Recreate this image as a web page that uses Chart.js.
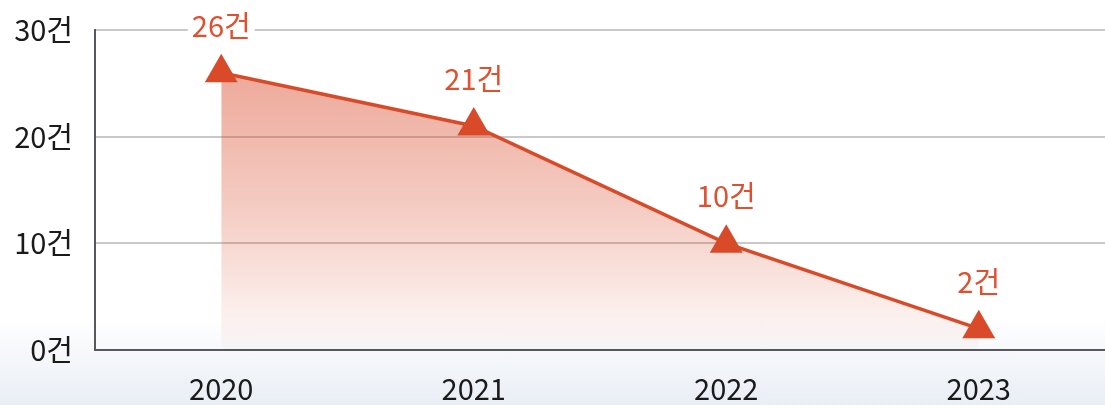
<!DOCTYPE html>
<html><head><meta charset="utf-8">
<script src="https://cdn.jsdelivr.net/npm/chart.js@4/dist/chart.umd.min.js"></script>
<style>
html,body{margin:0;padding:0;}
body{width:1105px;height:405px;background:linear-gradient(to bottom,#ffffff 0px,#ffffff 315px,#e9eef5 405px);}
#wrap{position:relative;width:1105px;height:405px;}
</style></head><body>
<div id="wrap"><canvas id="c" width="1105" height="405"></canvas></div>
<script>
const categories = ['2020','2021','2022','2023'];
const cases = [26, 21, 10, 2];
const yTicks = [0, 10, 20, 30];
const unit = '건';

const LINE = '#d94a29';
const FONT = '"Noto Sans CJK KR", "Noto Sans", sans-serif';

const labelPlugin = {
  id: 'valueLabels',
  afterDatasetsDraw(chart) {
    const ctx = chart.ctx;
    const meta = chart.getDatasetMeta(0);
    ctx.save();
    ctx.font = '29px ' + FONT;
    ctx.textAlign = 'center';
    ctx.textBaseline = 'middle';
    meta.data.forEach((pt, i) => {
      const txt = cases[i] + unit;
      const w = ctx.measureText(txt).width;
      const y = pt.y - 47;
      ctx.fillStyle = '#ffffff';
      ctx.fillRect(pt.x - w / 2 - 4, y - 14, w + 8, 28);
      ctx.fillStyle = '#e0502f';
      ctx.fillText(txt, pt.x, y);
    });
    ctx.restore();
  }
};

new Chart(document.getElementById('c'), {
  type: 'line',
  data: {
    labels: categories,
    datasets: [{
      data: cases,
      borderColor: LINE,
      borderWidth: 3.5,
      tension: 0,
      fill: 'origin',
      backgroundColor: (c) => {
        const ca = c.chart.chartArea;
        if (!ca) return 'rgba(217,74,41,0.4)';
        const g = c.chart.ctx.createLinearGradient(0, ca.top + 40, 0, ca.bottom);
        g.addColorStop(0, 'rgba(217,74,41,0.48)');
        g.addColorStop(0.5, 'rgba(217,74,41,0.28)');
        g.addColorStop(1, 'rgba(217,74,41,0.02)');
        return g;
      },
      pointStyle: 'triangle',
      pointRadius: 19,
      pointHoverRadius: 19,
      pointBackgroundColor: LINE,
      pointBorderColor: LINE,
      pointBorderWidth: 0
    }]
  },
  options: {
    responsive: false,
    animation: false,
    events: [],
    layout: { autoPadding: false, padding: { top: 30, right: 0, left: 0, bottom: 0 } },
    plugins: { legend: { display: false }, tooltip: { enabled: false } },
    scales: {
      x: {
        offset: true,
        grid: { display: false },
        border: { display: true, color: '#55585c', width: 2 },
        ticks: { color: '#1a1a1a', font: { family: FONT, size: 29 }, padding: 14, maxRotation: 0 },
        afterFit: (s) => { s.height = 55; s.paddingLeft = 0; s.paddingRight = 0; }
      },
      y: {
        min: 0, max: 30,
        afterBuildTicks: (s) => { s.ticks = yTicks.map(v => ({ value: v })); },
        grid: { color: '#c9c9c9', lineWidth: 2, drawTicks: false },
        border: { display: true, color: '#55585c', width: 2 },
        ticks: { color: '#1a1a1a', font: { family: FONT, size: 29 }, padding: 22,
                 callback: (v) => v + unit },
        afterFit: (s) => { s.width = 95; s.paddingTop = 0; s.paddingBottom = 0; }
      }
    }
  },
  plugins: [labelPlugin]
});
</script>
</body></html>
